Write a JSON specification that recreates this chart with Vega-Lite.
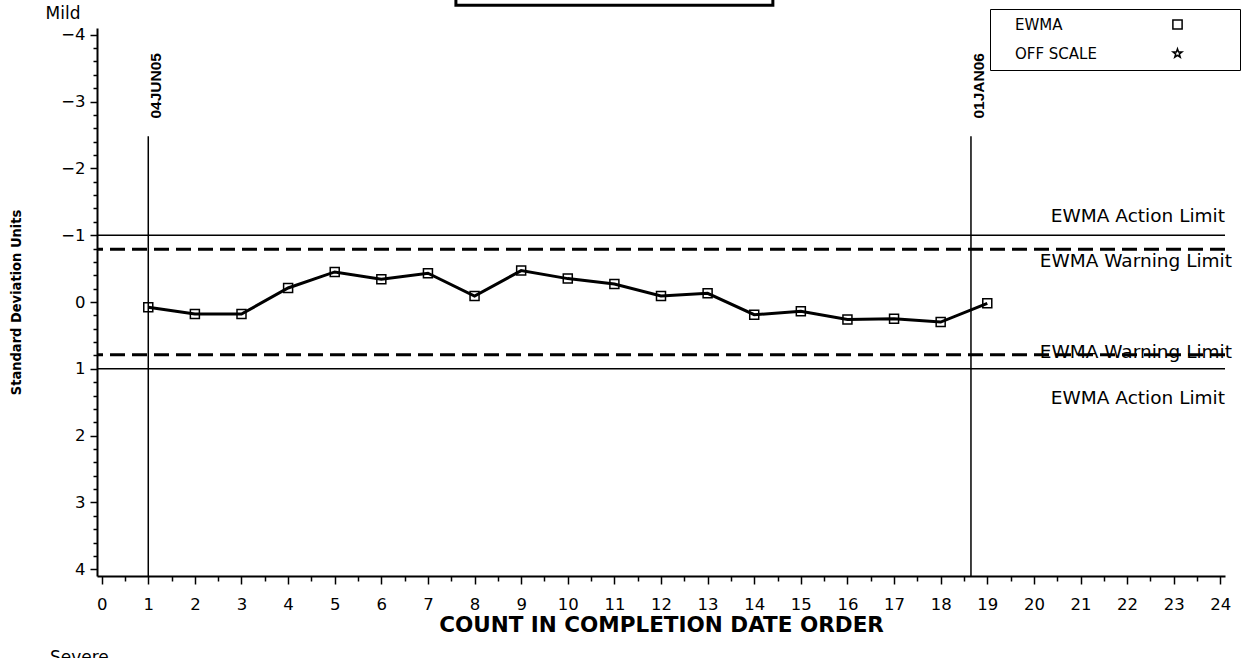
{
  "$schema": "https://vega.github.io/schema/vega-lite/v6.json",
  "width": 1128,
  "height": 548,
  "autosize": {"type": "none"},
  "padding": {"left": 97, "top": 28, "right": 19, "bottom": 82},
  "background": "white",
  "config": {
    "view": {"stroke": null},
    "font": "DejaVu Sans",
    "axis": {
      "domainColor": "black",
      "domainWidth": 2,
      "tickColor": "black",
      "tickWidth": 1.5,
      "labelColor": "black",
      "labelFont": "DejaVu Sans",
      "labelFontSize": 16.5,
      "titleColor": "black",
      "grid": false,
      "labelOverlap": false,
      "labelFlush": false,
      "labelBound": false
    }
  },
  "datasets": {
    "ewma": [
      {"x": 1, "value": 0.08, "series": "EWMA"},
      {"x": 2, "value": 0.18, "series": "EWMA"},
      {"x": 3, "value": 0.18, "series": "EWMA"},
      {"x": 4, "value": -0.21, "series": "EWMA"},
      {"x": 5, "value": -0.45, "series": "EWMA"},
      {"x": 6, "value": -0.34, "series": "EWMA"},
      {"x": 7, "value": -0.43, "series": "EWMA"},
      {"x": 8, "value": -0.09, "series": "EWMA"},
      {"x": 9, "value": -0.47, "series": "EWMA"},
      {"x": 10, "value": -0.35, "series": "EWMA"},
      {"x": 11, "value": -0.27, "series": "EWMA"},
      {"x": 12, "value": -0.09, "series": "EWMA"},
      {"x": 13, "value": -0.13, "series": "EWMA"},
      {"x": 14, "value": 0.19, "series": "EWMA"},
      {"x": 15, "value": 0.14, "series": "EWMA"},
      {"x": 16, "value": 0.26, "series": "EWMA"},
      {"x": 17, "value": 0.25, "series": "EWMA"},
      {"x": 18, "value": 0.3, "series": "EWMA"},
      {"x": 19, "value": 0.02, "series": "EWMA"}
    ],
    "limits": [
      {"value": -1, "type": "Action", "label": "EWMA Action Limit"},
      {"value": 1, "type": "Action", "label": "EWMA Action Limit"},
      {"value": -0.79, "type": "Warning", "label": "EWMA Warning Limit"},
      {"value": 0.79, "type": "Warning", "label": "EWMA Warning Limit"}
    ],
    "events": [
      {"x": 1, "label": "04JUN05"},
      {"x": 18.65, "label": "01JAN06"}
    ],
    "notes": [
      {"label": "Mild"},
      {"label": "Severe"}
    ]
  },
  "layer": [
    {
      "data": {"name": "ewma"},
      "mark": {"type": "line", "color": "black", "strokeWidth": 3},
      "encoding": {
        "x": {
          "field": "x", "type": "quantitative",
          "scale": {"domain": [-0.1, 24.1], "nice": false, "zero": false},
          "axis": {
            "title": "COUNT IN COMPLETION DATE ORDER",
            "titleFont": "DejaVu Sans",
            "titleFontWeight": "bold",
            "titleFontSize": 21.5,
            "titlePadding": 2,
            "format": ".0f",
            "tickCount": 200,
            "values": [0,0.5,1,1.5,2,2.5,3,3.5,4,4.5,5,5.5,6,6.5,7,7.5,8,8.5,9,9.5,10,10.5,11,11.5,12,12.5,13,13.5,14,14.5,15,15.5,16,16.5,17,17.5,18,18.5,19,19.5,20,20.5,21,21.5,22,22.5,23,23.5,24],
            "labelExpr": "datum.value % 1 === 0 ? datum.label : ''",
            "tickSize": {"condition": {"test": "datum.value % 1 === 0", "value": 8}, "value": 5},
            "labelPadding": 12
          }
        },
        "y": {
          "field": "value", "type": "quantitative",
          "scale": {"domain": [-4.1, 4.1], "nice": false, "zero": false, "reverse": true},
          "axis": {
            "title": "Standard Deviation Units",
            "titleFont": "Liberation Sans Narrow, DejaVu Sans Condensed, Liberation Sans",
            "titleFontWeight": "bold",
            "titleFontSize": 14.5,
            "titleX": -74,
            "format": ".0f",
            "tickCount": 200,
            "values": [-4,-3.8,-3.6,-3.4,-3.2,-3,-2.8,-2.6,-2.4,-2.2,-2,-1.8,-1.6,-1.4,-1.2,-1,-0.8,-0.6,-0.4,-0.2,0,0.2,0.4,0.6,0.8,1,1.2,1.4,1.6,1.8,2,2.2,2.4,2.6,2.8,3,3.2,3.4,3.6,3.8,4],
            "labelExpr": "datum.value % 1 === 0 ? datum.label : ''",
            "tickSize": {"condition": {"test": "datum.value % 1 === 0", "value": 7}, "value": 4},
            "labelPadding": 5
          }
        }
      }
    },
    {
      "data": {"name": "ewma"},
      "mark": {"type": "point", "filled": false, "color": "black", "strokeWidth": 1.5, "size": 81, "opacity": 1},
      "encoding": {
        "x": {"field": "x", "type": "quantitative"},
        "y": {"field": "value", "type": "quantitative"},
        "shape": {
          "field": "series", "type": "nominal",
          "scale": {"domain": ["EWMA", "OFF SCALE"], "range": ["square", "M0,-1L0.235,-0.324L0.951,-0.309L0.38,0.124L0.588,0.809L0,0.4L-0.588,0.809L-0.38,0.124L-0.951,-0.309L-0.235,-0.324Z"]},
          "legend": {
            "orient": "none",
            "legendX": 893,
            "legendY": -19,
            "title": "\u00a0",
            "titleOrient": "right",
            "titlePadding": 47,
            "titleFontSize": 10,
            "strokeColor": "black",
            "fillColor": "white",
            "padding": 8,
            "rowPadding": 12,
            "symbolOffset": 172,
            "symbolSize": 85,
            "symbolStrokeWidth": 1.5,
            "symbolStrokeColor": "black",
            "symbolFillColor": "white",
            "labelOffset": -170,
            "labelFont": "DejaVu Sans",
            "labelFontSize": 15,
            "labelColor": "black"
          }
        }
      }
    },
    {
      "data": {"name": "limits"},
      "transform": [{"filter": "datum.type === 'Action'"}],
      "mark": {"type": "rule", "color": "black", "strokeWidth": 1.5},
      "encoding": {"y": {"field": "value", "type": "quantitative"}}
    },
    {
      "data": {"name": "limits"},
      "transform": [{"filter": "datum.type === 'Warning'"}],
      "mark": {"type": "rule", "color": "black", "strokeWidth": 3, "strokeDash": [15, 7]},
      "encoding": {"y": {"field": "value", "type": "quantitative"}}
    },
    {
      "data": {"name": "limits"},
      "transform": [{"filter": "datum.value === -1"}],
      "mark": {"type": "text", "align": "right", "baseline": "alphabetic", "dy": -13, "fontSize": 18.5, "font": "DejaVu Sans", "color": "black"},
      "encoding": {
        "x": {"datum": 24.1, "type": "quantitative"},
        "y": {"field": "value", "type": "quantitative"},
        "text": {"field": "label"}
      }
    },
    {
      "data": {"name": "limits"},
      "transform": [{"filter": "datum.value === 1"}],
      "mark": {"type": "text", "align": "right", "baseline": "alphabetic", "dy": 35, "fontSize": 18.5, "font": "DejaVu Sans", "color": "black"},
      "encoding": {
        "x": {"datum": 24.1, "type": "quantitative"},
        "y": {"field": "value", "type": "quantitative"},
        "text": {"field": "label"}
      }
    },
    {
      "data": {"name": "limits"},
      "transform": [{"filter": "datum.value === -0.79"}],
      "mark": {"type": "text", "align": "right", "baseline": "alphabetic", "dx": 7, "dy": 18, "fontSize": 18.5, "font": "DejaVu Sans", "color": "black"},
      "encoding": {
        "x": {"datum": 24.1, "type": "quantitative"},
        "y": {"field": "value", "type": "quantitative"},
        "text": {"field": "label"}
      }
    },
    {
      "data": {"name": "limits"},
      "transform": [{"filter": "datum.value === 0.79"}],
      "mark": {"type": "text", "align": "right", "baseline": "alphabetic", "dx": 7, "dy": 3, "fontSize": 18.5, "font": "DejaVu Sans", "color": "black"},
      "encoding": {
        "x": {"datum": 24.1, "type": "quantitative"},
        "y": {"field": "value", "type": "quantitative"},
        "text": {"field": "label"}
      }
    },
    {
      "data": {"name": "events"},
      "mark": {"type": "rule", "color": "black", "strokeWidth": 1.5},
      "encoding": {
        "x": {"field": "x", "type": "quantitative"},
        "y": {"datum": -2.48, "type": "quantitative"},
        "y2": {"datum": 4.1}
      }
    },
    {
      "data": {"name": "events"},
      "mark": {"type": "text", "angle": 270, "align": "center", "baseline": "top", "dy": 1, "font": "Liberation Sans", "fontWeight": "bold", "fontSize": 15.5, "color": "black"},
      "encoding": {
        "x": {"field": "x", "type": "quantitative"},
        "y": {"datum": -3.235, "type": "quantitative"},
        "text": {"field": "label"}
      }
    },
    {
      "data": {"values": [{}]},
      "mark": {"type": "rect", "fill": null, "fillOpacity": 0, "stroke": "black", "strokeWidth": 3},
      "encoding": {
        "x": {"datum": 7.6, "type": "quantitative"},
        "x2": {"datum": 14.4},
        "y": {"datum": -4.44, "type": "quantitative"},
        "y2": {"datum": -5.2}
      }
    },
    {
      "data": {"name": "notes"},
      "transform": [{"filter": "datum.label === 'Mild'"}],
      "mark": {"type": "text", "align": "center", "baseline": "middle", "font": "DejaVu Sans", "fontSize": 17, "color": "black"},
      "encoding": {
        "x": {"datum": -0.83, "type": "quantitative"},
        "y": {"datum": -4.31, "type": "quantitative"},
        "text": {"field": "label"}
      }
    },
    {
      "data": {"name": "notes"},
      "transform": [{"filter": "datum.label === 'Severe'"}],
      "mark": {"type": "text", "align": "left", "baseline": "top", "font": "DejaVu Sans", "fontSize": 17, "color": "black"},
      "encoding": {
        "x": {"datum": -1.11, "type": "quantitative"},
        "y": {"datum": 5.21, "type": "quantitative"},
        "text": {"field": "label"}
      }
    }
  ]
}
